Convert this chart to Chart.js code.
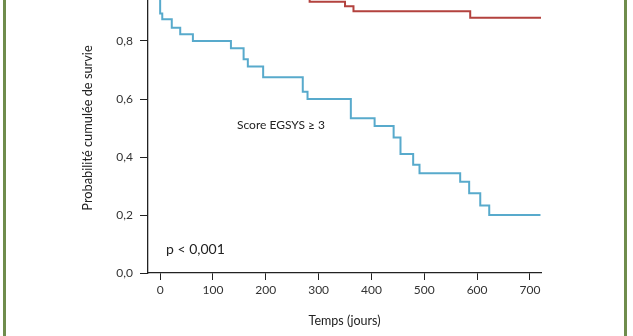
<!DOCTYPE html>
<html>
<head>
<meta charset="utf-8">
<script src="https://cdn.jsdelivr.net/npm/chart.js@4"></script>
<style>
  html, body { margin: 0; padding: 0; background: #fff; }
  #frame { position: relative; width: 633px; height: 336px; overflow: hidden; background: #fff; }
  #wrap { position: absolute; left: 0; top: -40px; width: 633px; height: 376px; }
  .rule { position: absolute; top: 0; width: 3px; height: 336px; background: #6f8c4c; }
</style>
</head>
<body>
<div id="frame">
  <div id="wrap"><canvas id="c" width="633" height="376"></canvas></div>
  <div class="rule" style="left:3px"></div>
  <div class="rule" style="left:624px"></div>
</div>
<script>
// Kaplan-Meier curve, EGSYS score >= 3 (day of event, survival from that day on)
const daysHigh = [0, 0, 4, 22, 38, 62, 134, 158, 166, 195, 270, 279, 361, 406, 442, 455, 479, 491, 568, 585, 606, 623, 720];
const survHigh = [1.0, 0.895, 0.875, 0.846, 0.823, 0.8, 0.775, 0.737, 0.712, 0.675, 0.625, 0.6, 0.534, 0.507, 0.467, 0.41, 0.373, 0.344, 0.315, 0.275, 0.233, 0.2, 0.2];

// Kaplan-Meier curve, EGSYS score < 3
const daysLow = [0, 283, 350, 366, 587, 722];
const survLow = [1.0, 0.935, 0.92, 0.903, 0.88, 0.88];

const xTicks = [0, 100, 200, 300, 400, 500, 600, 700];
const yTicks = [0, 0.2, 0.4, 0.6, 0.8, 1.0];

const labelHigh = 'Score EGSYS ≥ 3';
const labelLow = 'Score EGSYS < 3';
const pValue = 'p < 0,001';

const FONT = 'Lato, "Open Sans", sans-serif';
const AXIS = '#222';

const toPoints = (xs, ys) => xs.map((x, i) => ({ x, y: ys[i] }));

// free text inside the plot: curve labels and p-value
const notes = {
  id: 'notes',
  afterDatasetsDraw(chart) {
    const { ctx } = chart;
    ctx.save();
    ctx.fillStyle = '#222';
    ctx.textBaseline = 'middle';
    ctx.textAlign = 'left';
    ctx.font = '12px ' + FONT;
    ctx.fillText(labelHigh, 237, 165);
    ctx.textAlign = 'right';
    ctx.textBaseline = 'alphabetic';
    ctx.fillText(labelLow, 456, 37);
    ctx.textAlign = 'left';
    ctx.textBaseline = 'middle';
    ctx.font = '14px ' + FONT;
    ctx.fillText(pValue, 166, 289);
    ctx.restore();
  }
};

new Chart(document.getElementById('c'), {
  type: 'line',
  data: {
    datasets: [
      {
        label: labelLow,
        data: toPoints(daysLow, survLow),
        borderColor: '#b3423e',
        borderWidth: 2,
        pointRadius: 0,
        stepped: true,
        fill: false
      },
      {
        label: labelHigh,
        data: toPoints(daysHigh, survHigh),
        borderColor: '#58aacc',
        borderWidth: 2,
        pointRadius: 0,
        stepped: true,
        fill: false
      }
    ]
  },
  options: {
    responsive: false,
    animation: false,
    events: [],
    layout: { padding: { top: 23, right: 92, left: 0, bottom: 0 } },
    plugins: { legend: { display: false }, tooltip: { enabled: false } },
    scales: {
      x: {
        type: 'linear',
        min: -23,
        max: 721,
        afterBuildTicks: s => { s.ticks = xTicks.map(v => ({ value: v })); },
        afterFit: s => { s.height = 63; },
        ticks: {
          includeBounds: false,
          padding: 3,
          color: '#333',
          font: { family: FONT, size: 12 },
          maxRotation: 0
        },
        grid: { display: true, drawOnChartArea: false, drawTicks: true, tickLength: 7, color: AXIS, lineWidth: 1 },
        border: { display: true, color: AXIS, width: 1.3 },
        title: {
          display: true,
          text: 'Temps (jours)',
          color: '#222',
          font: { family: FONT, size: 12.5 },
          padding: { top: 0, bottom: 8 }
        }
      },
      y: {
        type: 'linear',
        min: 0,
        max: 1,
        afterBuildTicks: s => { s.ticks = yTicks.map(v => ({ value: v })); },
        afterFit: s => { s.width = 148; },
        ticks: {
          includeBounds: false,
          padding: 7,
          color: '#333',
          font: { family: FONT, size: 12 },
          callback: v => v.toFixed(1).replace('.', ',')
        },
        grid: { display: true, drawOnChartArea: false, drawTicks: true, tickLength: 8, color: AXIS, lineWidth: 1 },
        border: { display: true, color: AXIS, width: 1.3 },
        title: {
          display: true,
          text: 'Probabilité cumulée de survie',
          color: '#222',
          font: { family: FONT, size: 12.8 },
          padding: { top: 80, bottom: 0 }
        }
      }
    }
  },
  plugins: [notes]
});
</script>
</body>
</html>
